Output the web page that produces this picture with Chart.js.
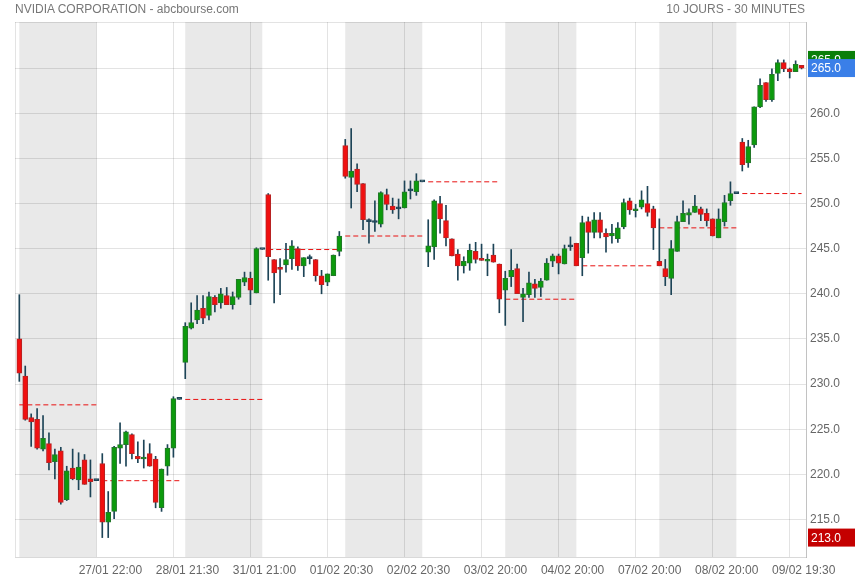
<!DOCTYPE html>
<html>
<head>
<meta charset="utf-8">
<script src="https://cdn.jsdelivr.net/npm/chart.js@4"></script>
<style>
    body { margin: 0; background: #fff; font-family: "Liberation Sans", Arial, sans-serif; }
    #wrap { position: relative; width: 855px; height: 580px; }
    .head { position: absolute; top: 2px; font-size: 12px; color: #777; }
    #title { left: 15px; }
    #period { right: 50px; }
</style>
</head>
<body>
<div id="wrap">
    <canvas id="chart"></canvas>
    <div class="head" id="title">NVIDIA CORPORATION - abcbourse.com</div>
    <div class="head" id="period">10 JOURS - 30 MINUTES</div>
</div>
<script>
// trading days : date, number of 30 min candles
const days = [['27/01', 14], ['28/01', 14], ['31/01', 14], ['01/02', 13], ['02/02', 14],
    ['03/02', 13], ['04/02', 13], ['07/02', 13], ['08/02', 14], ['09/02', 11]]

// previous close, drawn as a dashed line over each day
const prevClose = [227.7, 219.3, 228.3, 244.9, 246.4, 252.4, 239.4, 243.1, 247.3, 251.1]

const opens = [
    235.0, 230.9, 226.3, 226.1, 222.8, 223.4, 221.4, 222.6, 217.2, 220.7, 219.4, 221.6, 219.5, 219.3,
    221.2, 214.7, 215.9, 222.9, 223.3, 224.4, 222.0, 221.7, 222.3, 221.7, 216.3, 220.9, 222.9, 228.3,
    232.4, 236.2, 237.1, 238.4, 237.6, 239.6, 239.0, 239.8, 238.8, 239.6, 241.3, 241.7, 240.1, 244.9,
    251.0, 243.8, 242.9, 243.2, 243.9, 245.0, 243.1, 243.9, 243.8, 242.0, 241.3, 242.0, 244.7,
    256.4, 252.9, 253.8, 252.2, 248.0, 247.9, 247.7, 251.0, 249.7, 249.4, 249.5, 251.4, 251.3, 252.4,
    244.6, 245.2, 250.0, 248.1, 246.1, 244.4, 243.1, 243.4, 244.7, 243.9, 243.6, 244.3, 243.3,
    240.4, 241.9, 242.8, 239.6, 239.9, 241.1, 240.7, 241.5, 243.6, 244.2, 243.3, 245.2, 245.6,
    244.0, 248.0, 246.8, 248.2, 246.7, 246.4, 246.1, 247.4, 250.3, 249.2, 249.6, 250.0, 249.4,
    243.6, 242.8, 241.7, 244.7, 248.0, 248.7, 249.0, 249.4, 248.9, 248.3, 246.2, 248.0, 250.3, 251.1,
    256.8, 254.5, 256.5, 260.7, 263.4, 261.5, 264.4, 265.6, 264.9, 264.6, 265.3
]
const highs = [
    239.9, 232.0, 226.7, 227.3, 226.5, 224.6, 222.8, 223.0, 220.9, 222.8, 222.4, 222.2, 221.6, 219.3,
    222.3, 218.1, 223.1, 225.7, 224.8, 224.5, 223.6, 223.8, 223.4, 222.0, 220.6, 223.3, 228.6, 228.3,
    236.8, 239.0, 239.8, 239.8, 240.2, 239.8, 240.6, 240.7, 240.2, 241.6, 242.4, 242.4, 245.1, 244.9,
    251.1, 243.8, 243.9, 245.6, 245.9, 245.2, 244.0, 244.3, 243.8, 242.6, 242.2, 244.3, 246.9,
    257.1, 258.3, 254.4, 252.2, 248.3, 250.3, 251.3, 251.6, 250.6, 250.5, 252.5, 252.5, 253.3, 252.4,
    248.2, 250.4, 250.8, 249.8, 246.1, 244.9, 244.1, 245.5, 245.7, 245.5, 244.4, 245.5, 243.3,
    242.5, 244.9, 243.3, 240.6, 242.4, 241.6, 241.7, 243.9, 244.4, 244.4, 245.4, 246.3, 245.6,
    248.6, 248.5, 249.0, 249.0, 247.2, 247.7, 247.9, 250.5, 250.6, 249.9, 251.4, 251.9, 249.7,
    248.3, 243.8, 245.9, 248.6, 250.3, 249.4, 250.9, 249.6, 249.4, 248.3, 249.4, 250.9, 252.4, 251.1,
    257.2, 257.0, 260.7, 263.8, 263.4, 264.9, 265.9, 265.9, 265.0, 265.8, 265.3
]
const lows = [
    230.3, 226.0, 223.1, 222.8, 222.6, 220.5, 219.5, 216.7, 217.1, 219.4, 218.3, 218.9, 217.5, 219.3,
    213.0, 213.0, 215.1, 221.2, 220.9, 221.7, 221.3, 220.7, 220.9, 216.3, 215.9, 219.9, 221.9, 228.3,
    230.6, 236.1, 236.7, 236.7, 237.1, 238.0, 238.4, 238.8, 238.3, 239.4, 240.9, 238.8, 240.1, 244.9,
    241.5, 239.0, 239.9, 242.4, 242.7, 242.6, 241.9, 243.3, 241.4, 240.0, 240.9, 242.0, 244.2,
    252.8, 249.5, 251.3, 247.1, 245.6, 246.9, 247.4, 249.3, 248.9, 248.3, 249.5, 250.5, 250.9, 252.4,
    243.0, 243.8, 246.7, 245.3, 244.2, 241.5, 242.3, 242.6, 243.4, 243.7, 242.0, 243.5, 237.9,
    236.5, 240.8, 240.0, 236.9, 239.6, 239.6, 239.7, 241.5, 243.0, 242.2, 243.3, 244.8, 243.1,
    242.0, 244.5, 246.2, 246.2, 244.6, 245.6, 245.7, 247.2, 248.8, 248.5, 249.4, 248.6, 244.9,
    243.1, 240.9, 239.9, 244.7, 248.0, 247.7, 249.0, 248.1, 247.5, 246.4, 246.2, 247.5, 249.8, 251.1,
    253.6, 254.0, 256.2, 260.6, 261.3, 261.3, 263.6, 264.6, 263.9, 264.6, 264.9
]
const closes = [
    231.2, 226.1, 225.8, 222.9, 224.0, 221.3, 222.2, 216.9, 220.4, 219.5, 220.8, 218.9, 219.2, 219.3,
    214.7, 215.8, 223.0, 223.3, 224.7, 222.3, 221.7, 221.9, 220.9, 216.9, 220.6, 222.9, 228.4, 228.3,
    236.4, 236.8, 238.2, 237.3, 239.7, 238.8, 240.0, 238.8, 239.7, 241.6, 241.8, 240.4, 245.0, 244.9,
    244.1, 242.3, 242.7, 243.8, 245.3, 243.1, 244.0, 243.9, 242.0, 241.0, 242.2, 244.3, 246.4,
    253.0, 253.6, 252.1, 248.2, 248.0, 247.9, 251.2, 249.9, 249.3, 249.4, 251.3, 251.4, 252.5, 252.4,
    245.3, 250.3, 248.3, 246.2, 244.2, 243.1, 243.6, 244.8, 243.8, 243.7, 243.8, 243.5, 239.4,
    241.7, 242.6, 240.0, 240.0, 241.2, 240.6, 241.4, 243.4, 244.2, 243.4, 245.0, 245.2, 243.1,
    247.9, 246.8, 248.2, 246.8, 246.3, 246.7, 247.3, 250.1, 249.3, 249.4, 250.4, 249.0, 247.3,
    243.1, 241.9, 245.0, 248.0, 248.9, 249.0, 249.7, 248.8, 248.1, 246.4, 248.3, 250.1, 251.1, 251.1,
    254.3, 256.3, 260.7, 263.1, 261.5, 264.3, 265.6, 264.9, 264.6, 265.4, 265.0
]

const yTicks = [215, 220, 225, 230, 235, 240, 245, 250, 255, 260, 265]
const tickStep = 13

const categories = []
const dayStart = []
days.forEach(([d, n]) => {
    dayStart.push(categories.length)
    for (let k = 0; k < n; k++) {
        const m = 15 * 60 + 30 + k * 30
        categories.push(`${d} ${String(Math.floor(m / 60)).padStart(2, '0')}:${String(m % 60).padStart(2, '0')}`)
    }
})

const GREEN = '#0c9a0c', RED = '#f01010', DARK = '#1d4457'
const bodyColor = categories.map((c, i) => closes[i] > opens[i] ? GREEN : closes[i] < opens[i] ? RED : DARK)
const bodyBorder = categories.map((c, i) => closes[i] > opens[i] ? '#23772a' : closes[i] < opens[i] ? '#b52424' : DARK)

const X_MIN = -0.73, X_MAX = 132.75, Y_MIN = 210.85, Y_MAX = 270.1

const dashSets = days.map((d, k) => ({
    type: 'line',
    data: [{ x: dayStart[k], y: prevClose[k] }, { x: dayStart[k] + d[1] - 1, y: prevClose[k] }],
    borderColor: '#e81010',
    borderWidth: 1,
    borderDash: [5, 3],
    pointRadius: 0,
    order: 3
}))

const dayBands = {
    id: 'dayBands',
    beforeDraw(chart) {
        const { ctx, chartArea: a, scales: { x } } = chart
        ctx.save()
        ctx.fillStyle = '#e9e9e9'
        days.forEach((d, k) => {
            if (k % 2) return
            const x0 = x.getPixelForValue(dayStart[k])
            const x1 = x.getPixelForValue(dayStart[k] + d[1] - 1)
            ctx.fillRect(x0, a.top, x1 - x0, a.bottom - a.top)
        })
        ctx.restore()
    }
}

const badges = {
    id: 'badges',
    afterDraw(chart) {
        const { ctx, chartArea: a, scales: { y } } = chart
        const items = [
            [Math.max(...highs), '#0a7f0a'],
            [closes[closes.length - 1], '#3a7fe8'],
            [Math.min(...lows), '#c40000']
        ]
        ctx.save()
        ctx.font = '12px "Liberation Sans", Arial, sans-serif'
        ctx.textBaseline = 'middle'
        items.forEach(([v, col]) => {
            const py = y.getPixelForValue(v)
            ctx.fillStyle = col
            ctx.fillRect(a.right + 2, py - 9, 855 - a.right - 2, 18)
            ctx.fillStyle = '#fff'
            ctx.fillText(v.toFixed(1), a.right + 5, py + 1)
        })
        ctx.restore()
    }
}

new Chart(document.getElementById('chart'), {
    type: 'bar',
    data: {
        datasets: [{
            label: 'corps',
            data: categories.map((c, i) => ({ x: i, y: [opens[i], closes[i]] })),
            backgroundColor: bodyColor,
            borderColor: bodyBorder,
            borderWidth: 1,
            borderSkipped: false,
            barThickness: 5,
            minBarLength: 2,
            grouped: false,
            order: 1
        }, {
            label: 'mèches',
            data: categories.map((c, i) => ({ x: i, y: [lows[i], highs[i]] })),
            backgroundColor: DARK,
            borderWidth: 0,
            barThickness: 1,
            grouped: false,
            order: 2
        }, ...dashSets]
    },
    options: {
        responsive: true,
        maintainAspectRatio: false,
        animation: false,
        layout: { padding: { left: 15, top: 22, right: 0, bottom: 0 } },
        plugins: { legend: { display: false }, tooltip: { enabled: false } },
        scales: {
            x: {
                type: 'linear',
                min: X_MIN,
                max: X_MAX,
                offset: false,
                afterBuildTicks(s) {
                    const t = [{ value: X_MIN }]
                    for (let i = tickStep; i < categories.length; i += tickStep) t.push({ value: i })
                    t.push({ value: X_MAX })
                    s.ticks = t
                },
                afterFit(s) { s.height = 23 },
                grid: { color: 'rgba(0,0,0,0.11)', drawTicks: false, offset: false },
                border: { color: 'rgba(0,0,0,0.15)' },
                ticks: {
                    autoSkip: false,
                    maxRotation: 0,
                    padding: 6,
                    labelOffset: 14,
                    color: '#666',
                    font: { size: 12, family: '"Liberation Sans", Arial, sans-serif' },
                    callback: v => Number.isInteger(v) && v > 0 ? categories[v] : ''
                }
            },
            y: {
                position: 'right',
                min: Y_MIN,
                max: Y_MAX,
                afterBuildTicks(s) {
                    s.ticks = yTicks.map(v => ({ value: v })).concat([{ value: Y_MAX }])
                },
                afterFit(s) { s.width = 49 },
                grid: { color: 'rgba(0,0,0,0.11)', drawTicks: false },
                border: { color: 'rgba(0,0,0,0.15)' },
                ticks: {
                    padding: 4,
                    color: '#666',
                    font: { size: 12, family: '"Liberation Sans", Arial, sans-serif' },
                    callback: v => yTicks.includes(v) ? v.toFixed(1) : ''
                }
            }
        }
    },
    plugins: [dayBands, badges]
})
</script>
</body>
</html>
